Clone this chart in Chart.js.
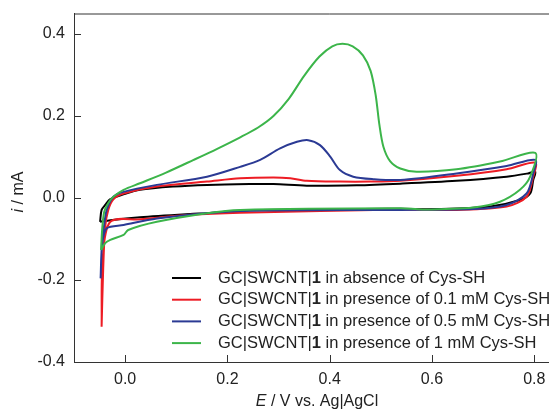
<!DOCTYPE html>
<html>
<head>
<meta charset="utf-8">
<script src="https://cdn.jsdelivr.net/npm/chart.js@4"></script>
<style>
html, body { margin: 0; padding: 0; overflow: hidden; background: #fff; }
#wrap { width: 600px; height: 412px; }
</style>
</head>
<body>
<div id="wrap"><canvas id="cv" width="600" height="412"></canvas></div>
<script>
// potentials (V vs. Ag|AgCl) and currents (mA)
// each loop: start at the -0.05 V vertex, anodic branch up to 0.8 V, cathodic branch back
const e_absence = [-0.049, -0.046, -0.039, -0.029, -0.003, 0.029, 0.095, 0.160, 0.244, 0.290, 0.355, 0.453, 0.538, 0.648, 0.746, 0.788, 0.802,
  0.798, 0.792, 0.772, 0.714, 0.616, 0.538, 0.244, 0.160, 0.127, 0.029, -0.029, -0.049]
const i_absence = [-0.058, -0.029, -0.017, -0.003, 0.009, 0.020, 0.028, 0.032, 0.034, 0.034, 0.030, 0.031, 0.035, 0.042, 0.052, 0.060, 0.064,
  0.044, 0.011, -0.005, -0.021, -0.027, -0.026, -0.030, -0.037, -0.039, -0.047, -0.054, -0.058]

const e_01mM = [-0.046, -0.043, -0.039, -0.033, -0.023, -0.003, 0.062, 0.160, 0.225, 0.290, 0.323, 0.355, 0.420, 0.479, 0.538, 0.648, 0.746, 0.802,
  0.798, 0.785, 0.746, 0.648, 0.538, 0.225, 0.127, 0.029, -0.029, -0.044, -0.046]
const i_01mM = [-0.314, -0.176, -0.070, -0.029, -0.003, 0.011, 0.028, 0.040, 0.048, 0.050, 0.048, 0.042, 0.040, 0.040, 0.042, 0.054, 0.070, 0.086,
  0.052, 0.003, -0.021, -0.029, -0.028, -0.036, -0.041, -0.052, -0.058, -0.151, -0.314]

const e_05mM = [-0.048, -0.045, -0.041, -0.036, -0.023, -0.003, 0.062, 0.160, 0.225, 0.264, 0.303, 0.336, 0.358, 0.381, 0.401, 0.420, 0.446, 0.485, 0.538, 0.648, 0.746, 0.802,
  0.798, 0.785, 0.746, 0.681, 0.538, 0.244, 0.160, 0.062, -0.003, -0.036, -0.045, -0.048]
const i_05mM = [-0.196, -0.102, -0.066, -0.029, 0.003, 0.015, 0.032, 0.052, 0.076, 0.093, 0.121, 0.137, 0.141, 0.129, 0.101, 0.068, 0.052, 0.046, 0.044, 0.060, 0.078, 0.093,
  0.060, 0.011, -0.017, -0.027, -0.029, -0.031, -0.037, -0.050, -0.066, -0.074, -0.115, -0.196]

const e_1mM = [-0.047, -0.045, -0.041, -0.033, -0.023, -0.003, 0.029, 0.080, 0.134, 0.180, 0.225, 0.260, 0.290, 0.320, 0.350, 0.380, 0.405, 0.425, 0.445, 0.465, 0.480, 0.490, 0.497, 0.505, 0.518, 0.538, 0.570, 0.648, 0.733, 0.802,
  0.792, 0.772, 0.733, 0.681, 0.583, 0.538, 0.225, 0.160, 0.062, 0.006, -0.003, -0.029, -0.039, -0.047]
const i_1mM = [-0.127, -0.078, -0.034, -0.012, 0.003, 0.020, 0.036, 0.062, 0.093, 0.120, 0.148, 0.172, 0.200, 0.242, 0.298, 0.345, 0.370, 0.376, 0.370, 0.348, 0.310, 0.250, 0.180, 0.125, 0.090, 0.072, 0.064, 0.070, 0.089, 0.110,
  0.052, 0.020, -0.009, -0.023, -0.028, -0.025, -0.029, -0.037, -0.058, -0.078, -0.090, -0.102, -0.110, -0.127]

const x_ticks = [0.0, 0.2, 0.4, 0.6, 0.8]
const y_ticks = [-0.4, -0.2, 0.0, 0.2, 0.4]

const legend_prefix = "GC|SWCNT|"
const legend_bold = "1"
const legend_rest = [" in absence of Cys-SH", " in presence of 0.1 mM Cys-SH", " in presence of 0.5 mM Cys-SH", " in presence of 1 mM Cys-SH"]
const line_colors = ["#000000", "#ed1c24", "#2b3a94", "#3cb54a"]

const FONT = "Liberation Sans, Arial, sans-serif"
const FS = 16.5

function pts(es, is) {
  let out = []
  for (let k = 0; k < es.length; k++) out.push({ x: es[k], y: is[k] })
  return out
}

const series = [pts(e_absence, i_absence), pts(e_01mM, i_01mM), pts(e_05mM, i_05mM), pts(e_1mM, i_1mM)]

// inward ticks, top frame line, axis titles, legend with bold "1"
const decor = {
  id: 'decor',
  afterDraw(chart) {
    const ctx = chart.ctx
    const a = chart.chartArea
    const sx = chart.scales.x, sy = chart.scales.y
    ctx.save()
    ctx.strokeStyle = '#333'
    ctx.lineWidth = 1
    ctx.beginPath()
    ctx.moveTo(a.left, a.top + 0.5); ctx.lineTo(a.right, a.top + 0.5)
    sx.ticks.forEach(t => {
      const px = Math.round(sx.getPixelForValue(t.value)) + 0.5
      ctx.moveTo(px, a.bottom); ctx.lineTo(px, a.bottom - 7)
    })
    sy.ticks.forEach(t => {
      const py = Math.round(sy.getPixelForValue(t.value)) + 0.5
      ctx.moveTo(a.left, py); ctx.lineTo(a.left + 7, py)
    })
    ctx.stroke()

    // x title
    ctx.fillStyle = '#222'
    ctx.textBaseline = 'middle'
    ctx.textAlign = 'left'
    const xt1 = 'E', xt2 = ' / V vs. Ag|AgCl'
    ctx.font = 'italic 16px ' + FONT
    const w1 = ctx.measureText(xt1).width
    ctx.font = '16px ' + FONT
    const w2 = ctx.measureText(xt2).width
    let x0 = 317 - (w1 + w2) / 2
    ctx.font = 'italic 16px ' + FONT
    ctx.fillText(xt1, x0, 402)
    ctx.font = '16px ' + FONT
    ctx.fillText(xt2, x0 + w1, 402)

    // y title
    ctx.save()
    ctx.translate(19, 192)
    ctx.rotate(-Math.PI / 2)
    ctx.font = 'italic 16px ' + FONT
    const yw1 = ctx.measureText('i').width
    ctx.font = '16px ' + FONT
    const yw2 = ctx.measureText(' / mA').width
    ctx.font = 'italic 16px ' + FONT
    ctx.fillText('i', -(yw1 + yw2) / 2, 0)
    ctx.font = '16px ' + FONT
    ctx.fillText(' / mA', -(yw1 + yw2) / 2 + yw1, 0)
    ctx.restore()

    // legend
    chart.data.datasets.forEach((ds, k) => {
      const ly = 278 + k * 21.7
      ctx.strokeStyle = ds.borderColor
      ctx.lineWidth = 2
      ctx.beginPath(); ctx.moveTo(172, ly); ctx.lineTo(201, ly); ctx.stroke()
      let tx = 218
      ctx.font = FS + 'px ' + FONT
      ctx.fillText(legend_prefix, tx, ly); tx += ctx.measureText(legend_prefix).width
      ctx.font = 'bold ' + FS + 'px ' + FONT
      ctx.fillText(legend_bold, tx, ly); tx += ctx.measureText(legend_bold).width
      ctx.font = FS + 'px ' + FONT
      ctx.fillText(legend_rest[k], tx, ly)
    })
    ctx.restore()
  }
}

new Chart(document.getElementById("cv"), {
  type: 'scatter',
  data: {
    datasets: series.map((d, k) => ({
      data: d,
      label: legend_prefix + legend_bold + legend_rest[k],
      borderColor: line_colors[k],
      backgroundColor: line_colors[k],
      borderWidth: 2,
      showLine: true,
      pointRadius: 0,
      tension: 0.3,
      fill: false,
      order: 3 - k
    }))
  },
  options: {
    responsive: false,
    animation: false,
    layout: { padding: { top: 13.5, right: 14.6, left: 0, bottom: 0 } },
    plugins: { legend: { display: false }, tooltip: { enabled: false } },
    scales: {
      x: {
        type: 'linear', min: -0.1, max: 0.9,
        afterBuildTicks: s => { s.ticks = x_ticks.map(v => ({ value: v })) },
        afterFit: s => { s.height = 50; s.paddingLeft = 0; s.paddingRight = 0 },
        grid: { display: false, drawTicks: false },
        border: { display: true, color: '#333', width: 1 },
        ticks: { padding: 8, color: '#222', font: { family: FONT, size: 16 }, callback: v => v.toFixed(1), maxRotation: 0, autoSkip: false }
      },
      y: {
        type: 'linear', min: -0.4, max: 0.45,
        afterBuildTicks: s => { s.ticks = y_ticks.map(v => ({ value: v })) },
        afterFit: s => { s.width = 74; s.paddingTop = 0; s.paddingBottom = 0 },
        grid: { display: false, drawTicks: false },
        border: { display: true, color: '#333', width: 1 },
        ticks: { padding: 9, color: '#222', font: { family: FONT, size: 16 }, callback: v => v.toFixed(1), autoSkip: false }
      }
    }
  },
  plugins: [decor]
})
</script>
</body>
</html>
